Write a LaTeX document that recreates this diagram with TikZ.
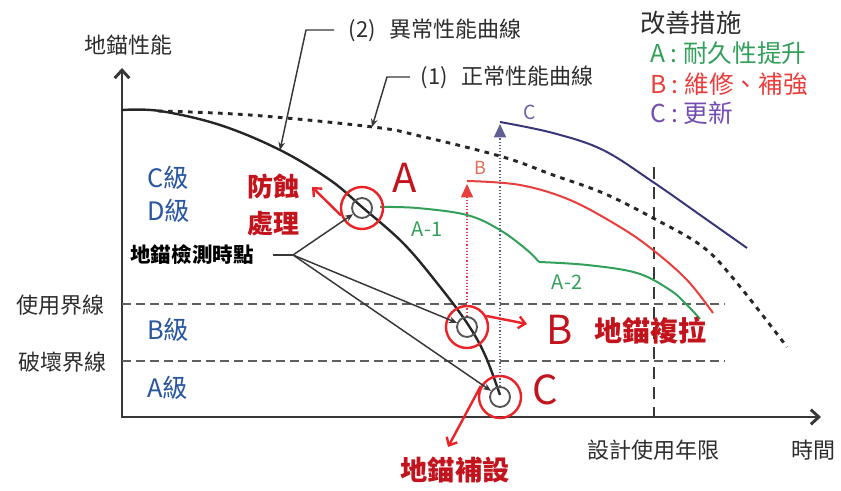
\documentclass[tikz,border=0pt]{standalone}
\usepackage{fontspec}
\setmainfont{Noto Sans CJK TC}
\usetikzlibrary{arrows.meta}
\definecolor{axisc}{RGB}{55,55,55}
\definecolor{txtgray}{RGB}{45,45,45}
\definecolor{darkred}{RGB}{195,20,30}
\definecolor{ringred}{RGB}{235,35,40}
\definecolor{gradeblue}{RGB}{40,85,160}
\definecolor{agreen}{RGB}{50,160,90}
\definecolor{bred}{RGB}{232,62,60}
\definecolor{cpurple}{RGB}{115,75,175}
\definecolor{navy}{RGB}{55,55,120}
\definecolor{bsalmon}{RGB}{225,110,85}
\definecolor{cgray}{RGB}{105,95,170}
\definecolor{ringgray}{RGB}{85,85,85}
\definecolor{dashgray}{RGB}{95,95,95}
\begin{document}
\begin{tikzpicture}[x=0.75pt,y=-0.75pt,
  lbl/.style={inner sep=0pt, text=txtgray, font=\fontsize{16.5}{19}\selectfont},
  grade/.style={inner sep=0pt, text=gradeblue, font=\fontsize{19}{22}\selectfont, anchor=west},
  redlbl/.style={inner sep=0pt, text=darkred, font=\bfseries\fontsize{19.5}{24}\selectfont},
  bigletter/.style={inner sep=0pt, text=darkred, font=\fontsize{30}{32}\selectfont},
  legend/.style={inner sep=0pt, anchor=west, font=\fontsize{18.5}{22}\selectfont},
  ring/.style={circle, draw=ringred, line width=1.8pt, minimum size=31.5pt, inner sep=0pt},
  innerring/.style={circle, draw=ringgray, line width=1.4pt, minimum size=15pt, inner sep=0pt},
  axis/.style={draw=axisc, line width=2.2pt, line join=miter},
  limitline/.style={draw=dashgray, line width=1.2pt, dash pattern=on 7pt off 3.5pt},
  lifeline/.style={draw=axisc, line width=1.4pt, dash pattern=on 9pt off 6pt},
  redarrow/.style={draw=ringred, line width=1.8pt, -{Straight Barb[length=5pt,width=9pt]}},
  leader/.style={draw=axisc, line width=1.1pt, -{Stealth[length=6pt,width=5pt]}},
  inspline/.style={draw=axisc, line width=1.1pt},
  normalcurve/.style={draw=black!85, line width=2.2pt, dash pattern=on 3.5pt off 4pt},
  abncurve/.style={draw=black!85, line width=1.8pt},
  upred/.style={draw=bred, line width=1.2pt, dash pattern=on 1pt off 1.4pt, -{Triangle[length=10pt,width=9pt]}},
  upblue/.style={draw=navy!80, line width=1.2pt, dash pattern=on 1pt off 1.4pt, -{Triangle[length=10pt,width=9pt]}},
  recov/.style={line width=1.5pt}
]
\useasboundingbox (0,0) rectangle (841,491);

% axes
\coordinate (O) at (122,417);
\coordinate (ytip) at (122,68);
\coordinate (xtip) at (821,417);
\draw[axis, {Straight Barb[length=6pt,width=11pt]}-{Straight Barb[length=6pt,width=11pt]}] (ytip) -- (O) -- (xtip);

% limit lines
\coordinate (u0) at (122,304); \coordinate (u1) at (725,304);
\coordinate (d0) at (122,361); \coordinate (d1) at (725,361);
\draw[limitline] (u0) -- (u1);
\draw[limitline] (d0) -- (d1);
\coordinate (v0) at (654,167); \coordinate (v1) at (654,417);
\draw[lifeline] (v0) -- (v1);

% axis labels
\node[lbl] (yl) at (128,45) {地錨性能};
\node[lbl, anchor=east] (use) at (105,305) {使用界線};
\node[lbl, anchor=east] (brk) at (107,362) {破壞界線};
\node[lbl] (life) at (653,450) {設計使用年限};
\node[lbl] (time) at (813,450) {時間};

% grades
\node[grade] (gC) at (147,178) {C級};
\node[grade] (gD) at (147,211) {D級};
\node[grade] (gB) at (147,330) {B級};
\node[grade] (gA) at (147,388) {A級};

% normal curve (1) and abnormal curve (2)
\draw[normalcurve] plot[smooth, tension=0.6] coordinates {(158,111) (250,115) (373,127) (420,136) (503,157) (553,175) (603,193) (653,218) (703,247) (737,283) (787,347)};
\draw[abncurve] plot[smooth, tension=0.6] coordinates {(122,110) (160,111) (220,125) (280,150) (330,180) (362,207) (403,243) (437,283) (467,323) (485,355) (500,395)};

% recovery curves
\draw[recov, agreen] plot[smooth, tension=0.6] coordinates {(380,207) (417,208) (467,215) (500,230) (527,250) (539,262)};
\draw[recov, agreen] plot[smooth, tension=0.6] coordinates {(539,262) (587,265) (637,273) (670,290) (687,305) (700,319)};
\draw[recov, bred] plot[smooth, tension=0.6] coordinates {(467,181) (520,185) (570,200) (620,227) (653,250) (687,280) (713,313)};
\draw[recov, navy] plot[smooth, tension=0.6] coordinates {(500,122) (553,133) (603,150) (653,182) (703,217) (747,248)};

% circles
\node[innerring] (Ai) at (362,208) {};
\node[ring] (Ar) at (362,208) {};
\node[innerring] (Bi) at (467,327) {};
\node[ring] (Br) at (467,327) {};
\node[innerring] (Ci) at (500,397) {};
\node[ring] (Cr) at (500,397) {};

% vertical recovery arrows
\coordinate (Btip) at (467,184);
\coordinate (Ctip) at (500,124);
\draw[upred] (Bi.north) -- (Btip);
\draw[upblue] (Ci.north) -- (Ctip);
\node[inner sep=0pt, text=bsalmon, font=\fontsize{13.5}{15}\selectfont] (lB) at (480,168) {B};
\node[inner sep=0pt, text=cgray, font=\fontsize{14.5}{16}\selectfont] (lC) at (530,112) {C};
\node[inner sep=0pt, text=agreen, font=\fontsize{15}{17}\selectfont] (lA1) at (427,229) {A-1};
\node[inner sep=0pt, text=agreen, font=\fontsize{15}{17}\selectfont] (lA2) at (567,282) {A-2};

% red actions
\coordinate (fsTip) at (312,187);
\coordinate (bTip) at (527,324);
\coordinate (cTip) at (448,447);
\draw[redarrow] (Ar.200) -- (fsTip);
\draw[redarrow] (Br.30) -- (bTip);
\draw[redarrow] (Cr.150) -- (cTip);
\node[redlbl, align=center] (fs) at (273,205) {防蝕\\[4pt]處理};
\node[bigletter] (bigA) at (405,178) {A};
\node[bigletter] (bigB) at (560,330) {B};
\node[bigletter] (bigC) at (545,390) {C};
\node[redlbl, font=\bfseries\fontsize{21}{24}\selectfont] (fl) at (650,331) {地錨複拉};
\node[redlbl, font=\bfseries\fontsize{20.5}{24}\selectfont] (fb) at (455,470) {地錨補設};

% inspection leader
\node[inner sep=0pt, inner xsep=14pt, text=black, font=\bfseries\fontsize{15.4}{18}\selectfont] (insp) at (192,255) {地錨檢測時點};
\coordinate (split) at (293,255);
\draw[inspline] (insp.east) -- (split);
\draw[leader] (split) -- (Ai);
\draw[leader] (split) -- (Bi);
\draw[leader] (split) -- (Ci);

% curve leaders
\node[lbl, anchor=west, inner xsep=11pt] (t2) at (334,30) {(2)\hspace{0.6em}異常性能曲線};
\coordinate (l2a) at (306,30);
\coordinate (p2) at (280,150);
\draw[leader] (t2.west) -- (l2a) -- (p2);
\node[lbl, anchor=west, inner xsep=8pt] (t1) at (410,77) {(1)\hspace{0.6em}正常性能曲線};
\coordinate (l1a) at (387,77);
\coordinate (p1) at (372,127);
\draw[leader] (t1.west) -- (l1a) -- (p1);

% legend
\node[inner sep=0pt, anchor=west, text=txtgray, font=\fontsize{19}{22}\selectfont] (lg) at (640,23) {改善措施};
\node[legend, text=agreen] (lgA) at (650,53) {A : 耐久性提升};
\node[legend, text=bred] (lgB) at (650,84) {B : 維修、補強};
\node[legend, text=cpurple] (lgC) at (650,113) {C : 更新};
\end{tikzpicture}
\end{document}
